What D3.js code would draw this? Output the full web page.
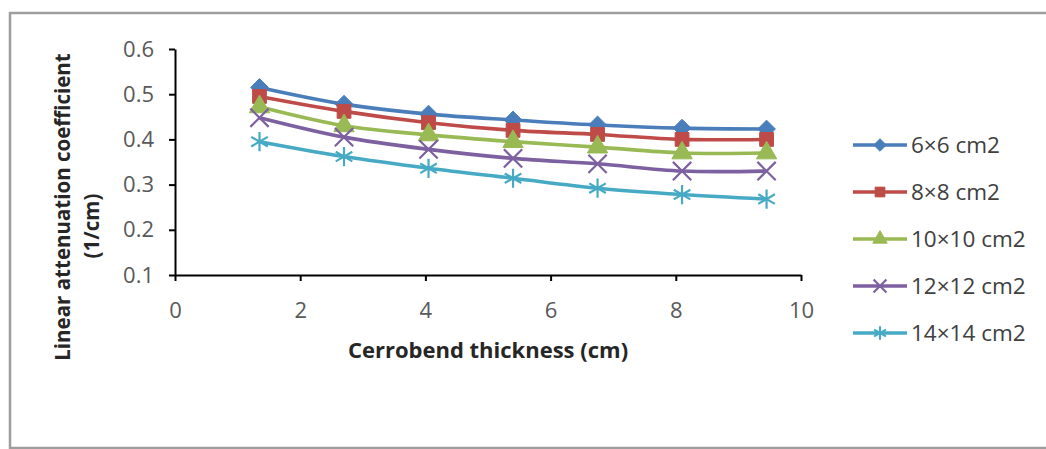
<!DOCTYPE html>
<html>
<head>
<meta charset="utf-8">
<script src="https://cdn.jsdelivr.net/npm/d3@7"></script>
<style>
  body { margin: 0; background: #fff; }
  svg { display: block; font-family: 'Open Sans', sans-serif; }
</style>
</head>
<body>
<div id="viz"></div>
<script>
const width = 1046;
const height = 449;

// Data
const thickness = [1.35, 2.7, 4.05, 5.4, 6.75, 8.1, 9.45];
const field6 = [0.515, 0.478, 0.456, 0.443, 0.432, 0.425, 0.423];
const field8 = [0.495, 0.462, 0.437, 0.420, 0.411, 0.400, 0.400];
const field10 = [0.472, 0.430, 0.410, 0.395, 0.383, 0.370, 0.370];
const field12 = [0.448, 0.405, 0.378, 0.358, 0.346, 0.330, 0.330];
const field14 = [0.395, 0.362, 0.336, 0.314, 0.292, 0.278, 0.268];
const xTicks = [0, 2, 4, 6, 8, 10];
const yTicks = [0.1, 0.2, 0.3, 0.4, 0.5, 0.6];
const labels = ['6×6 cm2', '8×8 cm2', '10×10 cm2', '12×12 cm2', '14×14 cm2'];

const series = [
  { label: labels[0], values: field6, color: '#4a7ebb', symbol: d3.symbolDiamond2, size: 200, filled: true },
  { label: labels[1], values: field8, color: '#be4b48', symbol: d3.symbolSquare, size: 190, filled: true },
  { label: labels[2], values: field10, color: '#98b954', symbol: d3.symbolTriangle, size: 180, filled: true },
  { label: labels[3], values: field12, color: '#7d60a0', symbol: d3.symbolTimes, size: 220, filled: false },
  { label: labels[4], values: field14, color: '#46aac5', symbol: d3.symbolAsterisk, size: 260, filled: false },
];

// Scales
const scaleX = d3.scaleLinear()
  .domain([0, 10])
  .range([175, 801]);

const scaleY = d3.scaleLinear()
  .domain([0.1, 0.6])
  .range([275, 49]);

const svg = d3.select('#viz')
  .append('svg')
    .attr('width', width)
    .attr('height', height);

// Chart frame
svg.append('rect')
  .attr('x', 10)
  .attr('y', 13)
  .attr('width', width)
  .attr('height', 435)
  .attr('fill', '#fff')
  .attr('stroke', '#9e9e9e')
  .attr('stroke-width', 2.5);

// Axes
const xAxis = svg.append('g')
  .attr('transform', `translate(0,${scaleY(0.1)})`)
  .call(d3.axisBottom(scaleX).tickValues(xTicks).tickSize(6).tickSizeOuter(0));
xAxis.selectAll('text')
  .attr('y', 43)
  .attr('dy', 0);

const yAxis = svg.append('g')
  .attr('transform', `translate(${scaleX(0)},0)`)
  .call(d3.axisLeft(scaleY).tickValues(yTicks).tickSize(6).tickSizeOuter(0).tickFormat(d3.format('.1f')));
yAxis.selectAll('text')
  .attr('x', -21);

svg.selectAll('.domain')
  .attr('stroke', '#000')
  .attr('stroke-width', 2);
svg.selectAll('.tick line')
  .attr('stroke', '#000')
  .attr('stroke-width', 2);
svg.selectAll('.tick text')
  .attr('fill', '#595959')
  .style('font-size', '22px')
  .style('font-family', "'Open Sans', sans-serif");

// Axis titles
svg.append('text')
  .attr('x', 488)
  .attr('y', 358)
  .attr('text-anchor', 'middle')
  .attr('fill', '#262626')
  .style('font-size', '22px')
  .style('font-weight', 700)
  .text('Cerrobend thickness (cm)');

svg.append('text')
  .attr('text-anchor', 'middle')
  .attr('transform', 'translate(70,207) rotate(-90)')
  .attr('fill', '#262626')
  .style('font-size', '20.5px')
  .style('font-weight', 700)
  .text('Linear attenuation coefficient');
svg.append('text')
  .attr('text-anchor', 'middle')
  .attr('transform', 'translate(99,226) rotate(-90)')
  .attr('fill', '#262626')
  .style('font-size', '20.5px')
  .style('font-weight', 700)
  .text('(1/cm)');

// Lines
const line = d3.line()
  .x((d, i) => scaleX(thickness[i]))
  .y(d => scaleY(d))
  .curve(d3.curveCatmullRom);

const drawMarker = (sel, s) => {
  sel.attr('d', d3.symbol().type(s.symbol).size(s.size))
    .attr('fill', s.filled ? s.color : 'none')
    .attr('stroke', s.color)
    .attr('stroke-width', s.filled ? 1 : 2.2);
};

series.forEach(s => {
  const g = svg.append('g').attr('class', 'series');
  g.append('path')
    .attr('d', line(s.values))
    .attr('fill', 'none')
    .attr('stroke', s.color)
    .attr('stroke-width', 3.6);
  g.selectAll('path.marker')
    .data(s.values)
    .join('path')
      .attr('class', 'marker')
      .attr('transform', (d, i) => `translate(${scaleX(thickness[i])},${scaleY(d)})`)
      .call(drawMarker, s);
});

// Legend
const legendY = d3.scalePoint()
  .domain(labels)
  .range([145, 333]);

const legend = svg.append('g')
  .selectAll('g')
  .data(series)
  .join('g')
    .attr('transform', d => `translate(0,${legendY(d.label)})`);
legend.append('line')
  .attr('x1', 853)
  .attr('x2', 907)
  .attr('stroke', d => d.color)
  .attr('stroke-width', 3.6);
legend.append('path')
  .attr('transform', 'translate(880,0)')
  .each(function(d) {
    d3.select(this).call(drawMarker, { ...d, size: d.size * 0.5 });
  });
legend.append('text')
  .attr('x', 911)
  .attr('dy', '0.35em')
  .attr('fill', '#404040')
  .style('font-size', '22.5px')
  .text(d => d.label);
</script>
</body>
</html>
